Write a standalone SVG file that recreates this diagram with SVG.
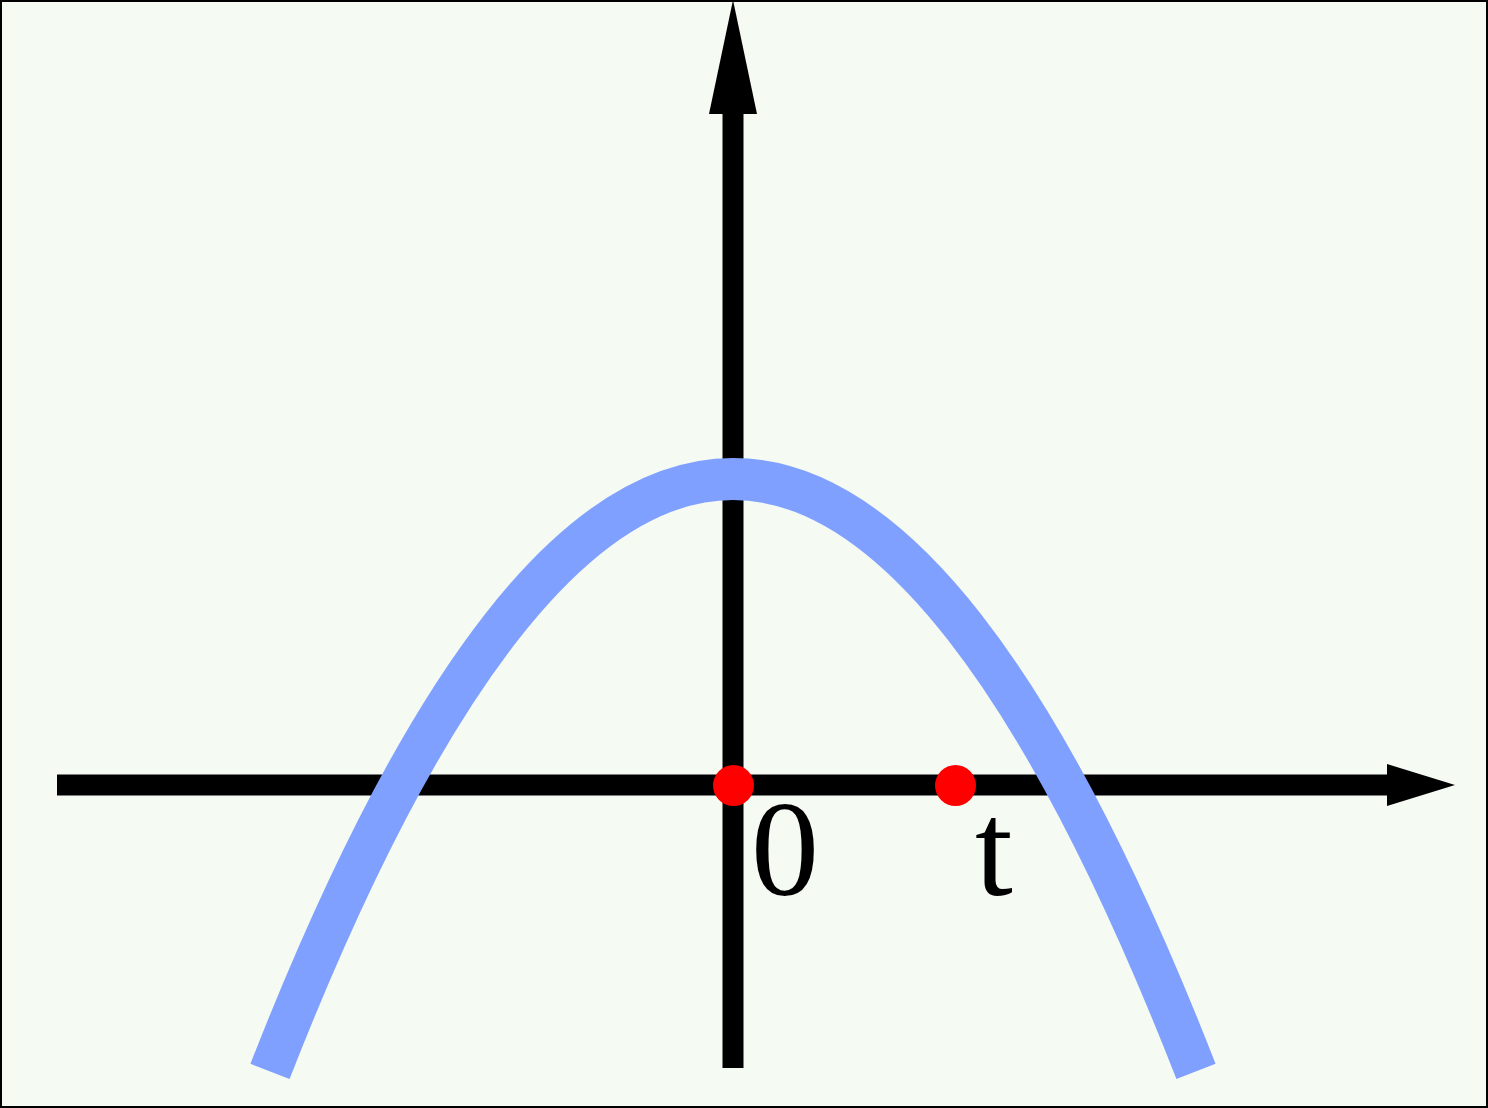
<svg xmlns="http://www.w3.org/2000/svg" width="1488" height="1108" viewBox="0 0 1488 1108">
<style>
.axis{stroke:#000;stroke-width:21;fill:none}
.head{fill:#000}
.curve{stroke:#80a0ff;stroke-width:42;fill:none}
.dot{fill:#ff0000}
.lbl{font-family:"Liberation Serif","Times New Roman",serif;font-size:136px;fill:#000}
</style>
<rect x="1" y="1" width="1486" height="1106" fill="#f5faf3" stroke="#000" stroke-width="2"/>
<g id="connectors">
<line class="axis" x1="57" y1="785" x2="1392" y2="785"/>
<polygon class="head" points="1387,764 1455,785 1387,806"/>
<line class="axis" x1="733" y1="1068" x2="733" y2="110"/>
<polygon class="head" points="709,114 733,0 757,114"/>
</g>
<g id="curve">
<path class="curve" d="M270,1071.4 Q733,-113.4 1196,1071.4"/>
</g>
<g id="point-0">
<circle class="dot" cx="733.5" cy="785.5" r="20.5"/>
<text class="lbl" x="751" y="895">0</text>
</g>
<g id="point-t">
<circle class="dot" cx="955.5" cy="785.5" r="20.5"/>
<text class="lbl" x="975" y="895">t</text>
</g>
</svg>
